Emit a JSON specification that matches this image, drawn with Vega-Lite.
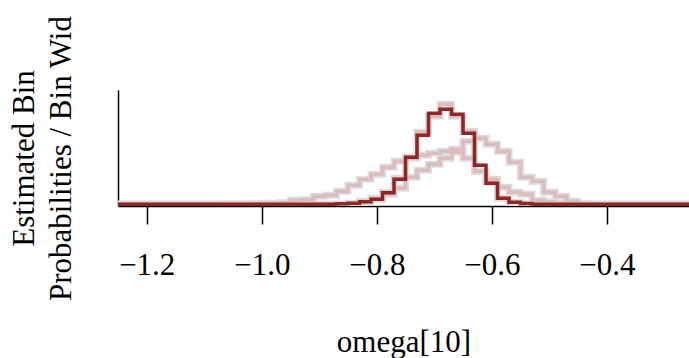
{
  "$schema": "https://vega.github.io/schema/vega-lite/v6.json",
  "width": 571,
  "height": 116,
  "autosize": "none",
  "padding": {"left": 118, "top": 90, "right": 0, "bottom": 152},
  "background": "white",
  "config": {"view": {"stroke": null}, "font": "Liberation Serif"},
  "data": {"values": [
    {"s": "L", "x": -1.25, "y": 0}, {"s": "L", "x": -1.07, "y": 0.035}, {"s": "L", "x": -1.05, "y": 0.04}, {"s": "L", "x": -1.03, "y": 0.04}, {"s": "L", "x": -1.01, "y": 0.07}, {"s": "L", "x": -0.99, "y": 0.09}, {"s": "L", "x": -0.97, "y": 0.13}, {"s": "L", "x": -0.95, "y": 0.35}, {"s": "L", "x": -0.93, "y": 0.39}, {"s": "L", "x": -0.91, "y": 0.70}, {"s": "L", "x": -0.89, "y": 0.79}, {"s": "L", "x": -0.87, "y": 1.14}, {"s": "L", "x": -0.85, "y": 1.66}, {"s": "L", "x": -0.83, "y": 2.19}, {"s": "L", "x": -0.81, "y": 2.62}, {"s": "L", "x": -0.79, "y": 3.24}, {"s": "L", "x": -0.77, "y": 3.76}, {"s": "L", "x": -0.75, "y": 4.11}, {"s": "L", "x": -0.73, "y": 4.29}, {"s": "L", "x": -0.71, "y": 4.46}, {"s": "L", "x": -0.69, "y": 4.64}, {"s": "L", "x": -0.67, "y": 4.55}, {"s": "L", "x": -0.65, "y": 4.02}, {"s": "L", "x": -0.63, "y": 2.89}, {"s": "L", "x": -0.61, "y": 2.19}, {"s": "L", "x": -0.59, "y": 1.49}, {"s": "L", "x": -0.57, "y": 1.05}, {"s": "L", "x": -0.55, "y": 0.87}, {"s": "L", "x": -0.53, "y": 0.35}, {"s": "L", "x": -0.51, "y": 0.22}, {"s": "L", "x": -0.49, "y": 0.09}, {"s": "L", "x": -0.47, "y": 0.035}, {"s": "L", "x": -0.45, "y": 0}, {"s": "L", "x": -0.25, "y": 0},
    {"s": "R", "x": -1.25, "y": 0}, {"s": "R", "x": -0.85, "y": 0.09}, {"s": "R", "x": -0.83, "y": 0.26}, {"s": "R", "x": -0.81, "y": 0.52}, {"s": "R", "x": -0.79, "y": 0.87}, {"s": "R", "x": -0.77, "y": 1.40}, {"s": "R", "x": -0.75, "y": 2.36}, {"s": "R", "x": -0.73, "y": 2.97}, {"s": "R", "x": -0.71, "y": 3.50}, {"s": "R", "x": -0.69, "y": 4.02}, {"s": "R", "x": -0.67, "y": 4.81}, {"s": "R", "x": -0.65, "y": 5.51}, {"s": "R", "x": -0.63, "y": 5.77}, {"s": "R", "x": -0.61, "y": 5.25}, {"s": "R", "x": -0.59, "y": 4.64}, {"s": "R", "x": -0.57, "y": 3.67}, {"s": "R", "x": -0.55, "y": 2.36}, {"s": "R", "x": -0.53, "y": 2.01}, {"s": "R", "x": -0.51, "y": 1.05}, {"s": "R", "x": -0.49, "y": 0.70}, {"s": "R", "x": -0.47, "y": 0.26}, {"s": "R", "x": -0.45, "y": 0.06}, {"s": "R", "x": -0.43, "y": 0}, {"s": "R", "x": -0.25, "y": 0},
    {"s": "A", "x": -1.25, "y": 0}, {"s": "A", "x": -0.85, "y": 0.04}, {"s": "A", "x": -0.83, "y": 0.17}, {"s": "A", "x": -0.81, "y": 0.44}, {"s": "A", "x": -0.79, "y": 1.05}, {"s": "A", "x": -0.77, "y": 2.27}, {"s": "A", "x": -0.75, "y": 4.02}, {"s": "A", "x": -0.73, "y": 6.30}, {"s": "A", "x": -0.71, "y": 7.70}, {"s": "A", "x": -0.69, "y": 8.75}, {"s": "A", "x": -0.67, "y": 7.70}, {"s": "A", "x": -0.65, "y": 6.39}, {"s": "A", "x": -0.63, "y": 2.89}, {"s": "A", "x": -0.61, "y": 1.92}, {"s": "A", "x": -0.59, "y": 0.52}, {"s": "A", "x": -0.57, "y": 0.17}, {"s": "A", "x": -0.55, "y": 0.04}, {"s": "A", "x": -0.53, "y": 0}, {"s": "A", "x": -0.25, "y": 0},
    {"s": "D", "x": -1.25, "y": 0}, {"s": "D", "x": -0.87, "y": 0.04}, {"s": "D", "x": -0.85, "y": 0.09}, {"s": "D", "x": -0.83, "y": 0.22}, {"s": "D", "x": -0.81, "y": 0.44}, {"s": "D", "x": -0.79, "y": 1.02}, {"s": "D", "x": -0.77, "y": 2.19}, {"s": "D", "x": -0.75, "y": 4.11}, {"s": "D", "x": -0.73, "y": 6.04}, {"s": "D", "x": -0.71, "y": 7.96}, {"s": "D", "x": -0.69, "y": 8.31}, {"s": "D", "x": -0.67, "y": 7.87}, {"s": "D", "x": -0.65, "y": 6.21}, {"s": "D", "x": -0.63, "y": 3.41}, {"s": "D", "x": -0.61, "y": 1.84}, {"s": "D", "x": -0.59, "y": 0.52}, {"s": "D", "x": -0.57, "y": 0.17}, {"s": "D", "x": -0.55, "y": 0.06}, {"s": "D", "x": -0.53, "y": 0}, {"s": "D", "x": -0.25, "y": 0}
  ]},
  "encoding": {
    "x": {
      "field": "x", "type": "quantitative",
      "scale": {"domain": [-1.25, -0.257], "nice": false, "zero": false},
      "axis": {
        "values": [-1.2, -1.0, -0.8, -0.6, -0.4], "format": ".1f",
        "grid": false, "domainColor": "black", "domainWidth": 1.5,
        "tickColor": "black", "tickWidth": 1.5, "tickSize": 18,
        "labelFont": "Liberation Serif", "labelFontSize": 31, "labelColor": "black",
        "labelBaseline": "alphabetic", "labelPadding": 50, "labelFlush": false, "labelOverlap": false,
        "title": "omega[10]", "titleFont": "Liberation Serif", "titleFontSize": 31, "titleFontWeight": "normal",
        "titleColor": "black", "titleBaseline": "alphabetic", "titleAlign": "center", "titleX": 285.5, "titleY": 145
      }
    },
    "y": {
      "field": "y", "type": "quantitative",
      "scale": {"domain": [-0.15, 10], "nice": false, "zero": false},
      "axis": {
        "grid": false, "ticks": false, "labels": false,
        "domainColor": "black", "domainWidth": 1.5,
        "title": ["Estimated Bin", "Probabilities / Bin Wid"],
        "titleFont": "Liberation Serif", "titleFontSize": 31, "titleFontWeight": "normal", "titleColor": "black",
        "titleAngle": 270, "titleAlign": "center", "titleBaseline": "alphabetic", "titleLineHeight": 37,
        "titleX": -85, "titleY": 68
      }
    }
  },
  "layer": [
    {
      "transform": [{"filter": "datum.s != 'D'"}],
      "mark": {"type": "line", "interpolate": "step-after", "stroke": "#DDDDDD", "strokeWidth": 7, "clip": true},
      "encoding": {"detail": {"field": "s"}}
    },
    {
      "transform": [{"filter": "datum.s != 'D'"}],
      "mark": {"type": "line", "interpolate": "step-after", "stroke": "#DCBCBC", "strokeWidth": 3.5, "clip": true},
      "encoding": {"detail": {"field": "s"}}
    },
    {
      "transform": [{"filter": "datum.s == 'D'"}],
      "mark": {"type": "line", "interpolate": "step-after", "stroke": "#8F2727", "strokeWidth": 3.5, "clip": true},
      "encoding": {}
    }
  ]
}
